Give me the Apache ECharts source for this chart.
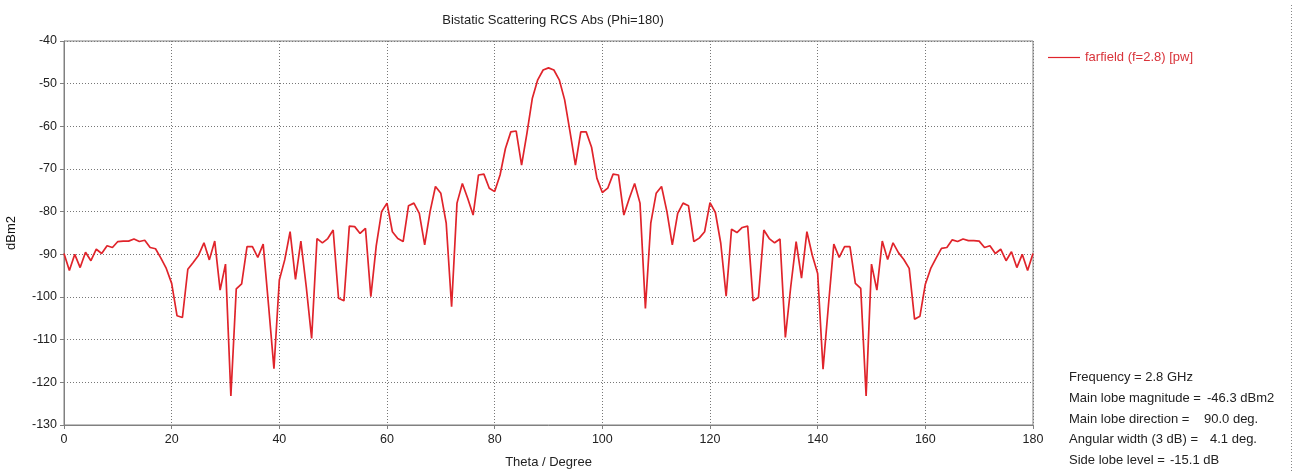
<!DOCTYPE html>
<html>
<head>
<meta charset="utf-8">
<script src="https://cdn.jsdelivr.net/npm/echarts@6/dist/echarts.min.js"></script>
<style>html,body{margin:0;padding:0;background:#fff;}#c{width:1299px;height:472px;}</style>
</head>
<body>
<div id="c"></div>
<script>
// Theta (deg) 0..180 step 1
var theta = [];
for (var i = 0; i <= 180; i++) theta.push(i);
// RCS values (dBm2)
var rcs = [
 -89.8,-93.8,-90.0,-93.1,-89.5,-91.5,-88.8,-89.8,-88.0,-88.4,
 -87.0,-86.9,-86.9,-86.4,-87.0,-86.7,-88.4,-88.7,-90.9,-93.3,
 -96.8,-104.4,-104.8,-93.5,-91.9,-90.2,-87.3,-91.3,-86.9,-98.4,
 -92.3,-123.2,-98.1,-96.9,-88.2,-88.2,-90.7,-87.6,-102.0,-116.8,
 -96.0,-91.3,-84.7,-95.9,-86.9,-97.6,-109.7,-86.3,-87.3,-86.3,
 -84.3,-100.3,-100.9,-83.4,-83.5,-85.1,-83.9,-99.9,-88.0,-80.0,
 -78.0,-84.7,-86.3,-87.0,-78.6,-78.0,-80.4,-87.8,-80.0,-74.1,
 -75.7,-82.7,-102.3,-78.0,-73.4,-76.9,-80.8,-71.4,-71.2,-74.5,
 -75.3,-71.4,-65.2,-61.3,-61.1,-69.1,-61.6,-53.4,-49.1,-46.8,
 -46.3,-46.8,-49.1,-53.8,-61.3,-69.1,-61.3,-61.3,-64.9,-72.2,
 -75.5,-74.5,-71.2,-71.4,-80.8,-76.9,-73.4,-78.0,-102.7,-82.7,
 -75.7,-74.1,-80.0,-87.8,-80.4,-78.0,-78.6,-87.0,-86.2,-84.7,
 -77.9,-80.2,-87.4,-99.8,-84.1,-84.9,-83.7,-83.4,-100.9,-100.1,
 -84.3,-86.3,-87.3,-86.4,-109.5,-97.6,-87.0,-95.6,-84.7,-90.2,
 -94.5,-116.9,-102.0,-87.6,-90.7,-88.2,-88.2,-96.8,-98.0,-123.2,
 -92.3,-98.4,-86.9,-91.2,-87.3,-89.6,-91.2,-93.3,-105.2,-104.5,
 -97.0,-93.3,-90.9,-88.6,-88.4,-86.6,-87.0,-86.4,-86.8,-86.8,
 -86.9,-88.4,-88.0,-89.8,-88.8,-91.5,-89.4,-93.1,-90.0,-93.8,
 -89.8
];
var xTicks = [0,20,40,60,80,100,120,140,160,180];
var yTicks = [-40,-50,-60,-70,-80,-90,-100,-110,-120,-130];
var infoLabels = ['Frequency = 2.8 GHz','Main lobe magnitude =','Main lobe direction =','Angular width (3 dB) =','Side lobe level ='];
var infoValues = ['','-46.3 dBm2','90.0 deg.','4.1 deg.','-15.1 dB'];

var FONT = 'Liberation Sans';
var data = theta.map(function(t, i){ return [t, rcs[i]]; });

var valueX = [0, 1207, 1204, 1210, 1170];
var graphics = [];
infoLabels.forEach(function(s, i){
  graphics.push({type:'text', left:1069, top:371 + i*20.8, style:{text:s, fill:'#222', font:'13px ' + FONT}});
  if (infoValues[i]) graphics.push({type:'text', left:valueX[i], top:371 + i*20.8, style:{text:infoValues[i], fill:'#222', font:'13px ' + FONT}});
});
graphics.push({type:'line', shape:{x1:1291.5, y1:5, x2:1291.5, y2:472}, style:{stroke:'#888', lineWidth:1, lineDash:[1,2]}});

var chart = echarts.init(document.getElementById('c'));
chart.setOption({
  backgroundColor:'#fff',
  animation:false,
  title:{text:'Bistatic Scattering RCS Abs (Phi=180)', left:548, top:9, textAlign:'center',
    textStyle:{fontFamily:FONT, fontSize:13, fontWeight:'normal', color:'#222'}},
  legend:{left:1043, top:46, itemWidth:32, itemHeight:10, itemGap:4,
    textStyle:{fontFamily:FONT, fontSize:13, color:'#d9333a'},
    data:[{name:'farfield (f=2.8) [pw]', icon:'path://M0,4.4 L32,4.4 L32,5.6 L0,5.6 Z'}]},
  grid:{left:64, right:266, top:41, bottom:47, show:true, borderColor:'#808080', borderWidth:1,
    containLabel:false, outerBoundsMode:'none'},
  xAxis:{type:'value', min:0, max:180, interval:20,
    name:'Theta / Degree', nameLocation:'middle', nameGap:31,
    nameTextStyle:{fontFamily:FONT, fontSize:13, color:'#222'},
    axisLine:{lineStyle:{color:'#808080'}},
    axisTick:{show:true, length:4, lineStyle:{color:'#808080'}},
    axisLabel:{fontFamily:FONT, fontSize:12.5, color:'#222', margin:8},
    splitLine:{show:true, lineStyle:{color:'#777', type:[1,2], width:1}}},
  yAxis:{type:'value', min:-130, max:-40, interval:10,
    name:'dBm2', nameLocation:'middle', nameGap:46, nameRotate:90,
    nameTextStyle:{fontFamily:FONT, fontSize:13, color:'#111'},
    axisLine:{show:true, lineStyle:{color:'#808080'}},
    axisTick:{show:true, length:4, lineStyle:{color:'#808080'}},
    axisLabel:{fontFamily:FONT, fontSize:12.5, color:'#222', margin:7},
    splitLine:{show:true, lineStyle:{color:'#777', type:[1,2], width:1}}},
  series:[{name:'farfield (f=2.8) [pw]', type:'line', data:data, symbol:'none', showSymbol:false,
    lineStyle:{color:'#e0242b', width:1.7}, itemStyle:{color:'#e0242b'}}],
  graphic:graphics
});
</script>
</body>
</html>
